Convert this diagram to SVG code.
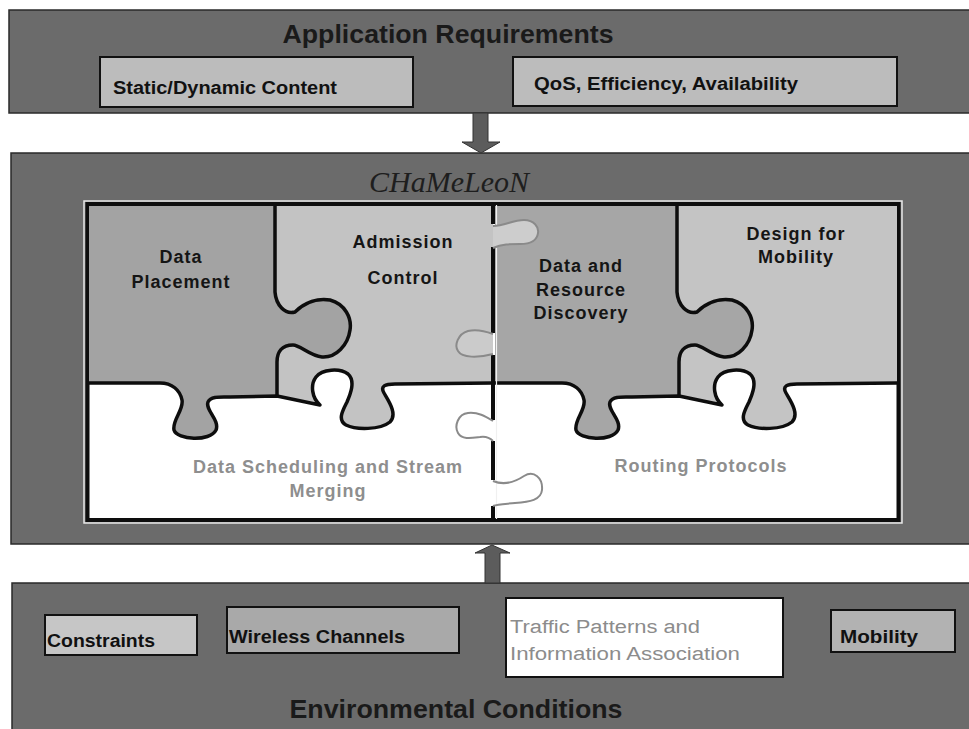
<svg xmlns="http://www.w3.org/2000/svg" xmlns:xlink="http://www.w3.org/1999/xlink" width="969" height="729" viewBox="0 0 969 729">
  <style>
    .bar { fill: #6b6b6b; stroke: #2a2a2a; stroke-width: 1.5; }
    .box { stroke: #111; stroke-width: 2; }
    .title { font-family: "Liberation Sans", Arial, sans-serif; font-weight: bold; fill: #1a1a1a; }
    .lbl { font-family: "Liberation Sans", Arial, sans-serif; font-weight: bold; fill: #111; }
    .piece { font-family: "Liberation Sans", Arial, sans-serif; font-weight: bold; font-size: 18px; letter-spacing: 1px; fill: #151515; text-anchor: middle; }
    .soft { fill: #8e8e8e; }
    .edge { fill: none; stroke: #0d0d0d; stroke-width: 3.5; stroke-linejoin: round; }
    .tab { stroke: #8a8a8a; stroke-width: 2; }
    .arrow { fill: #5c5c5c; stroke: #333; stroke-width: 1; }
  </style>
  <defs>
    <!-- one half of the jigsaw; reused for both halves -->
    <path id="upperArea" d="M80,190 L500,190 L500,383 L395,384 C385,384 380,386 384,393 C388,400 398,414 390,422 C380,430 356,430 346,425 C337,420 343,410 347,402 C350,395 356,381 348,374 C340,368 322,369 316,377 C310,385 312,398 320,405 L277,396 L230,397 C220,397 211,396 208,402 C205,410 220,420 216,430 C210,442 177,440 174,430 C172,420 184,410 182,400 C180,390 172,383 160,383 L80,383 Z"/>
    <path id="leftPiece" d="M80,190 L275,190 L275,292 C276,305 285,315 295,312 C305,302 318,298 330,300 C345,304 352,318 350,330 C348,345 336,358 322,357 C310,356 300,345 293,345 C282,345 277,352 277,362 L277,396 L230,397 C220,397 211,396 208,402 C205,410 220,420 216,430 C210,442 177,440 174,430 C172,420 184,410 182,400 C180,390 172,383 160,383 L80,383 Z"/>
    <path id="seamH" d="M80,383 L160,383 C172,383 180,390 182,400 C184,410 172,420 174,430 C177,440 210,442 216,430 C220,420 205,410 208,402 C211,396 220,397 230,397 L277,396 L320,405 C312,398 310,385 316,377 C322,369 340,368 348,374 C356,381 350,395 347,402 C343,410 337,420 346,425 C356,430 380,430 390,422 C398,414 388,400 384,393 C380,386 385,384 395,384 L500,383"/>
    <path id="seamV" d="M275,190 L275,292 C276,305 285,315 295,312 C305,302 318,298 330,300 C345,304 352,318 350,330 C348,345 336,358 322,357 C310,356 300,345 293,345 C282,345 277,352 277,362 L277,396"/>
    <clipPath id="clipL"><rect x="89" y="206" width="404" height="312"/></clipPath>
    <clipPath id="clipR"><rect x="495" y="206" width="402" height="312"/></clipPath>
  </defs>

  <rect width="969" height="729" fill="#ffffff"/>

  <!-- Application Requirements -->
  <g id="app-requirements">
    <rect class="bar" x="9" y="10" width="970" height="103"/>
    <text class="title" x="448" y="43" font-size="25" text-anchor="middle" textLength="331" lengthAdjust="spacingAndGlyphs">Application Requirements</text>
    <g id="static-dynamic">
      <rect class="box" x="100" y="57" width="313" height="50" fill="#bcbcbc"/>
      <text class="lbl" x="113" y="94" font-size="18" textLength="224" lengthAdjust="spacingAndGlyphs">Static/Dynamic Content</text>
    </g>
    <g id="qos">
      <rect class="box" x="513" y="57" width="384" height="49" fill="#bcbcbc"/>
      <text class="lbl" x="534" y="90" font-size="18" textLength="264" lengthAdjust="spacingAndGlyphs">QoS, Efficiency, Availability</text>
    </g>
  </g>

  <!-- CHaMeLeoN framework -->
  <g id="chameleon">
    <rect class="bar" x="11" y="153" width="970" height="391"/>
    <text x="449" y="192" font-family="'Liberation Serif', 'Times New Roman', serif" font-style="italic" font-size="30" fill="#1e1e1e" text-anchor="middle" textLength="160" lengthAdjust="spacingAndGlyphs">CHaMeLeoN</text>

    <rect x="84" y="201" width="818" height="322" fill="none" stroke="#e8e8e8" stroke-width="1.5"/>
    <rect x="87.5" y="204" width="811" height="316" fill="#ffffff" stroke="#0d0d0d" stroke-width="4"/>

    <g id="left-half" clip-path="url(#clipL)">
      <use xlink:href="#upperArea" fill="#c3c3c3"/>
      <use xlink:href="#leftPiece" fill="#a3a3a3"/>
      <use xlink:href="#seamH" class="edge"/>
      <use xlink:href="#seamV" class="edge"/>
    </g>
    <g id="right-half" clip-path="url(#clipR)">
      <g transform="translate(402,0)">
        <use xlink:href="#upperArea" fill="#c4c4c4"/>
        <use xlink:href="#leftPiece" fill="#a6a6a6"/>
        <use xlink:href="#seamH" class="edge"/>
        <use xlink:href="#seamV" class="edge"/>
      </g>
    </g>

    <!-- centre divider with its tabs -->
    <g id="divider">
      <line x1="496.5" y1="205" x2="496.5" y2="519" stroke="#f0f0f0" stroke-width="1.2"/>
      <path d="M493,205 V224 M493,247 V333 M493,355 V420 M493,441 V480 M493,506 V519" stroke="#0d0d0d" stroke-width="4" fill="none"/>
      <path class="tab" fill="#cdcdcd" d="M493,226 C505,226 512,220 524,220 C534,220 539,227 538,233 C537,241 530,244 520,244 C510,244 502,244 493,248"/>
      <path class="tab" fill="#cbcbcb" d="M493,334 C485,331 476,329 468,331 C458,334 454,345 458,351 C462,358 478,358 493,354"/>
      <path class="tab" fill="none" d="M493,421 C485,416 478,412 468,413 C458,414 454,426 458,433 C462,440 472,438 480,437 C486,436 490,438 493,441"/>
      <path class="tab" fill="none" d="M493,481 C505,486 515,482 524,476 C534,470 543,478 542,490 C541,500 530,502 515,503 C505,504 498,504 493,506"/>
    </g>

    <g id="data-placement">
      <text class="piece" x="181" y="263">Data</text>
      <text class="piece" x="181" y="288">Placement</text>
    </g>
    <g id="admission-control">
      <text class="piece" x="403" y="248">Admission</text>
      <text class="piece" x="403" y="284">Control</text>
    </g>
    <g id="data-scheduling">
      <text class="piece soft" x="328" y="473">Data Scheduling and Stream</text>
      <text class="piece soft" x="328" y="497">Merging</text>
    </g>
    <g id="resource-discovery">
      <text class="piece" x="581" y="272">Data and</text>
      <text class="piece" x="581" y="296">Resource</text>
      <text class="piece" x="581" y="319">Discovery</text>
    </g>
    <g id="design-mobility">
      <text class="piece" x="796" y="240">Design for</text>
      <text class="piece" x="796" y="263">Mobility</text>
    </g>
    <g id="routing">
      <text class="piece soft" x="701" y="472">Routing Protocols</text>
    </g>
  </g>

  <!-- Environmental Conditions -->
  <g id="env-conditions">
    <rect class="bar" x="12" y="583" width="970" height="160"/>
    <text class="title" x="456" y="718" font-size="25" text-anchor="middle" textLength="333" lengthAdjust="spacingAndGlyphs">Environmental Conditions</text>
    <g id="constraints">
      <rect class="box" x="45" y="615" width="152" height="40" fill="#c6c6c6"/>
      <text class="lbl" x="47" y="647" font-size="18" textLength="108" lengthAdjust="spacingAndGlyphs">Constraints</text>
    </g>
    <g id="wireless">
      <rect class="box" x="227" y="607" width="232" height="46" fill="#a9a9a9"/>
      <text class="lbl" x="229" y="643" font-size="18" textLength="176" lengthAdjust="spacingAndGlyphs">Wireless Channels</text>
    </g>
    <g id="traffic">
      <rect class="box" x="506" y="598" width="277" height="79" fill="#ffffff"/>
      <text x="510" y="633" font-family="'Liberation Sans', Arial, sans-serif" font-size="18" fill="#8c8c8c" textLength="190" lengthAdjust="spacingAndGlyphs">Traffic Patterns and</text>
      <text x="510" y="660" font-family="'Liberation Sans', Arial, sans-serif" font-size="18" fill="#8c8c8c" textLength="230" lengthAdjust="spacingAndGlyphs">Information Association</text>
    </g>
    <g id="mobility">
      <rect class="box" x="831" y="610" width="124" height="42" fill="#b2b2b2"/>
      <text class="lbl" x="840" y="643" font-size="18" textLength="78" lengthAdjust="spacingAndGlyphs">Mobility</text>
    </g>
  </g>

  <!-- connectors between the layers -->
  <g id="connectors">
    <polygon class="arrow" points="473,113 488,113 488,142 500,142 481,153 462,142 473,142"/>
    <polygon class="arrow" points="485,583 500,583 500,553 510,553 492,545 475,553 485,553"/>
  </g>
</svg>
